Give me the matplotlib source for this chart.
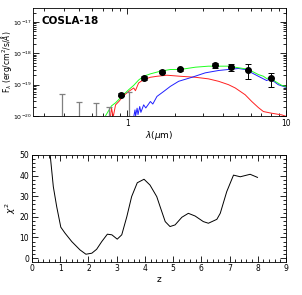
import matplotlib
matplotlib.use('Agg')
import matplotlib.pyplot as plt
import numpy as np

# photometric detections (micron, flux in 1e-20 erg/cm2/s/A)
DET_LAM = [0.917, 1.27, 1.66, 2.16, 3.58, 4.52, 5.75, 8.0]
DET_FLUX = [4.8, 16.5, 26, 31, 42, 36.5, 30, 16]
DET_ERR = [0.6, 2.0, 3.0, 3.0, 7.0, 8.5, 15.0, 7.5]

# upper limits
UL_LAM = [0.387, 0.494, 0.632, 0.763, 1.034]
UL_FLUX = [5.1, 2.8, 2.6, 1.9, 5.7]

# model components
RED_LAM = [0.785, 0.797, 0.817, 0.845, 0.886, 0.93, 0.976, 1.023, 1.10, 1.127,
           1.18, 1.27, 1.40, 1.54, 1.78, 2.16, 2.69, 3.25, 3.76, 4.34, 4.79,
           5.53, 6.09, 6.70, 7.21, 8.13, 9.40, 10.26]
RED_FLUX = [0.95, 1.77, 0.93, 2.26, 2.89, 3.89, 5.01, 6.08, 7.83, 6.4,
            11.3, 14.5, 17.2, 18.5, 20.0, 18.5, 17.2, 15.3, 12.8, 10.0, 7.83,
            4.76, 2.89, 1.85, 1.38, 1.22, 1.08, 0.93]

GREEN_LAM = [0.73, 0.797, 0.845, 0.886, 0.93, 0.976, 1.023, 1.10, 1.18, 1.27,
             1.40, 1.62, 1.87, 2.16, 2.69, 3.25, 4.34, 5.02, 5.53, 6.09, 6.70,
             7.21, 7.56, 7.94, 8.53, 9.40, 10.26]
GREEN_FLUX = [1.0, 2.1, 2.63, 3.36, 4.42, 5.52, 6.9, 9.5, 14.0, 18.5,
              22.1, 26.9, 30.5, 30.5, 36.1, 38.9, 38.9, 34.6, 32.1, 26.9, 21.0,
              18.5, 15.6, 17.2, 12.8, 9.5, 8.4]

BLUE_LAM = [1.10, 1.12, 1.13, 1.155, 1.17, 1.20, 1.22, 1.27, 1.31, 1.40, 1.45,
            1.54, 1.70, 1.87, 2.11, 2.56, 3.10, 3.76, 4.34, 5.02, 5.53, 6.09,
            6.70, 7.56, 7.94, 8.93, 10.26]
BLUE_FLUX = [0.95, 1.56, 1.0, 1.77, 1.1, 2.0, 1.3, 2.26, 1.8, 2.89, 2.4,
             4.2, 6.08, 8.8, 12.8, 17.2, 23.8, 28.3, 30.5, 32.8, 30.5, 23.8,
             18.5, 13.5, 15.6, 10.0, 7.83]

# photo-z chi2 curve
Z = [0.60, 0.755, 0.875, 1.02, 1.17, 1.41, 1.70, 1.91, 2.12, 2.29, 2.47, 2.67,
     2.83, 3.02, 3.18, 3.36, 3.53, 3.73, 3.97, 4.18, 4.42, 4.54, 4.72, 4.89,
     5.07, 5.31, 5.54, 5.78, 6.07, 6.25, 6.55, 6.67, 6.90, 7.14, 7.38, 7.73,
     7.99]
CHI2 = [56, 34.6, 24.9, 15.0, 12.1, 8.0, 4.0, 1.9, 2.4, 4.3, 8.0, 11.6,
        11.3, 9.2, 11.3, 20.1, 29.8, 36.5, 38.2, 35.4, 29.8, 24.9, 17.7, 15.3,
        16.1, 19.8, 21.7, 20.4, 17.7, 16.9, 18.8, 21.7, 32.2, 40.2, 39.4, 40.6,
        39.1]

S = 1e-20
plt.rcParams['font.family'] = 'DejaVu Sans'
plt.rcParams['mathtext.fontset'] = 'dejavusans'
fig = plt.figure(figsize=(3.02, 2.95), dpi=100)

ax1 = fig.add_axes([0.109, 0.607, 0.838, 0.366])
ax1.plot(RED_LAM, np.array(RED_FLUX) * S, color='#ff2020', lw=0.7)
ax1.plot(BLUE_LAM, np.array(BLUE_FLUX) * S, color='#2020ff', lw=0.7)
ax1.plot(GREEN_LAM, np.array(GREEN_FLUX) * S, color='#20ff20', lw=0.7)
ul = np.array(UL_FLUX) * S
ax1.vlines(UL_LAM, 1e-20, ul, color='#808080', lw=0.9)
ax1.plot(UL_LAM, ul, ls='none', marker='_', ms=5, mew=0.9, color='#808080')
ax1.errorbar(DET_LAM, np.array(DET_FLUX) * S, yerr=np.array(DET_ERR) * S,
             fmt='o', ms=4, color='black', ecolor='black', elinewidth=0.7,
             capsize=2, capthick=0.7)
ax1.set_xscale('log')
ax1.set_yscale('log')
ax1.set_xlim(0.255, 10)
ax1.set_ylim(1e-20, 10 ** -16.55)
ax1.set_xticks([1, 10])
ax1.set_xticklabels(['1', '10'])
ax1.set_yticks([1e-20, 1e-19, 1e-18, 1e-17])
ax1.set_yticklabels([r'10$^{-20}$', r'10$^{-19}$', r'10$^{-18}$', r'10$^{-17}$'])
ax1.set_xlabel(r'$\lambda(\mu$m)', fontsize=6.5, labelpad=1)
fig.text(0.021, 0.79, r'F$_\lambda$ (erg/cm$^2$/s/$\AA$)', fontsize=5.5,
         rotation=90, ha='center', va='center')
ax1.text(0.035, 0.88, 'COSLA-18', transform=ax1.transAxes, fontsize=7.5,
         fontweight='bold', va='center')

ax2 = fig.add_axes([0.106, 0.113, 0.841, 0.362])
ax2.plot(Z, CHI2, color='black', lw=0.7)
ax2.set_xlim(0, 9)
ax2.set_ylim(-1.7, 50)
ax2.set_xticks(range(10))
ax2.set_xticks(np.arange(0, 9.01, 0.2), minor=True)
ax2.set_yticks([0, 10, 20, 30, 40, 50])
ax2.set_yticks(range(0, 51, 2), minor=True)
ax2.set_xlabel('z', fontsize=6.5, labelpad=1)
ax2.set_ylabel(r'$\chi^2$', fontsize=6.5, labelpad=1)

for ax in (ax1, ax2):
    ax.tick_params(which='both', direction='in', top=True, right=True,
                   labelsize=5.5, width=0.6, pad=2)
    ax.tick_params(which='major', length=4)
    ax.tick_params(which='minor', length=2)
    for sp in ax.spines.values():
        sp.set_linewidth(0.6)
ax1.tick_params(axis='y', labelsize=4.5, pad=1)

fig.savefig('out.png', dpi=100)
